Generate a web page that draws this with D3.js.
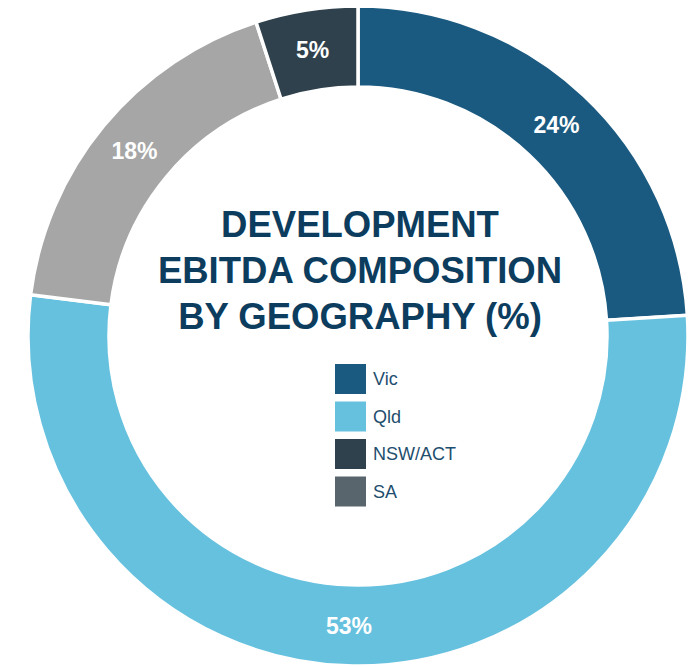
<!DOCTYPE html>
<html><head><meta charset="utf-8">
<script src="https://cdn.jsdelivr.net/npm/d3@7"></script>
<style>html,body{margin:0;padding:0;background:#fff;}</style>
</head><body>
<script>
const categories = ["Vic", "Qld", "SA", "NSW/ACT"];
const values = [24, 53, 18, 5];
const sliceColors = ["#1b5a80", "#66c1df", "#a6a6a6", "#2f414c"];
const legendItems = ["Vic", "Qld", "NSW/ACT", "SA"];
const legendColors = ["#1b5a80", "#66c1df", "#2f414c", "#58656d"];
const titleLines = ["DEVELOPMENT", "EBITDA COMPOSITION", "BY GEOGRAPHY (%)"];

const W = 695, H = 667;
const cx = 358, cy = 336, R = 330, r = 249;

const svg = d3.select("body").append("svg").attr("width", W).attr("height", H);
const g = svg.append("g").attr("transform", `translate(${cx},${cy})`);

const data = categories.map((c, i) => ({cat: c, value: values[i], color: sliceColors[i]}));
const pie = d3.pie().value(d => d.value).sort(null);
const arc = d3.arc().innerRadius(r).outerRadius(R);
const labelArc = d3.arc().innerRadius(290).outerRadius(290);

const arcs = pie(data);
g.selectAll("path").data(arcs).join("path")
  .attr("d", arc)
  .attr("fill", d => d.data.color)
  .attr("stroke", "#fff")
  .attr("stroke-width", 3.5);

g.selectAll("text.lbl").data(arcs).join("text")
  .attr("class", "lbl")
  .attr("transform", d => `translate(${labelArc.centroid(d)})`)
  .attr("text-anchor", "middle")
  .attr("dy", "0.36em")
  .attr("fill", "#fff")
  .attr("font-family", "Liberation Sans, Arial, sans-serif")
  .attr("font-weight", "bold")
  .attr("font-size", 23)
  .text(d => d.data.value + "%");

// Title
const title = svg.append("text")
  .attr("text-anchor", "middle")
  .attr("fill", "#0c3d5e")
  .attr("font-family", "Liberation Sans, Arial, sans-serif")
  .attr("font-weight", "bold")
  .attr("font-size", 36.5);
const baselines = [237, 283, 329];
titleLines.forEach((t, i) => {
  title.append("tspan").attr("x", 360).attr("y", baselines[i]).text(t);
});

// Legend
const lg = svg.append("g").attr("transform", "translate(335,364)");
const rows = lg.selectAll("g").data(legendItems).join("g")
  .attr("transform", (d, i) => `translate(0,${i * 37.5})`);
rows.append("rect").attr("width", 31).attr("height", 30)
  .attr("fill", (d, i) => legendColors[i]);
rows.append("text").attr("x", 38).attr("y", 15).attr("dy", "0.36em")
  .attr("fill", "#1e4e6e")
  .attr("font-family", "Liberation Sans, Arial, sans-serif")
  .attr("font-size", 18)
  .text(d => d);
</script>
</body></html>
